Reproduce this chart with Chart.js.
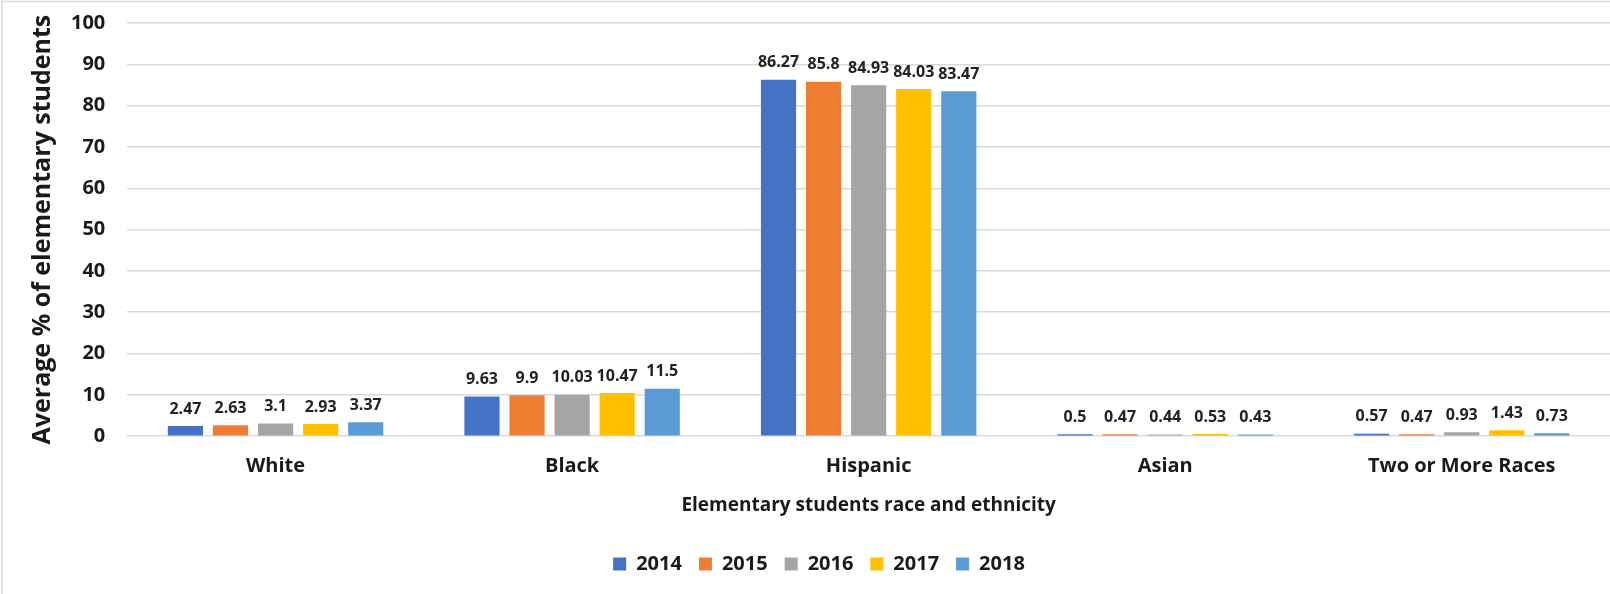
<!DOCTYPE html>
<html>
<head>
<meta charset="utf-8">
<script src="https://cdn.jsdelivr.net/npm/chart.js@4.4.1/dist/chart.umd.min.js"></script>
<style>
  html, body { margin: 0; padding: 0; background: #fff; }
  #wrap { width: 1610px; height: 594px; position: relative; }
</style>
</head>
<body>
<div id="wrap"><canvas id="grafico" width="1610" height="594"></canvas></div>
<script>
var categorias = ['White', 'Black', 'Hispanic', 'Asian', 'Two or More Races'];
var anos = ['2014', '2015', '2016', '2017', '2018'];
var v2014 = [2.47, 9.63, 86.27, 0.5, 0.57];
var v2015 = [2.63, 9.9, 85.8, 0.47, 0.47];
var v2016 = [3.1, 10.03, 84.93, 0.44, 0.93];
var v2017 = [2.93, 10.47, 84.03, 0.53, 1.43];
var v2018 = [3.37, 11.5, 83.47, 0.43, 0.73];
var cores = ['#4472C4', '#ED7D31', '#A5A5A5', '#FFC000', '#5B9BD5'];

var fonte = '"Open Sans", sans-serif';

// rotulos de valor por cima das barras
var rotulos = {
    id: 'rotulos',
    afterDatasetsDraw: function (chart) {
        var ctx = chart.ctx;
        ctx.save();
        ctx.font = 'bold 16px ' + fonte;
        ctx.fillStyle = '#222';
        ctx.textAlign = 'center';
        ctx.textBaseline = 'bottom';
        chart.data.datasets.forEach(function (ds, i) {
            chart.getDatasetMeta(i).data.forEach(function (bar, j) {
                ctx.fillText(String(ds.data[j]), bar.x, bar.y - 9);
            });
        });
        ctx.restore();
    }
};

// moldura cinzenta (so em cima e a esquerda, como na imagem original)
var moldura = {
    id: 'moldura',
    afterDraw: function (chart) {
        var ctx = chart.ctx;
        ctx.save();
        ctx.strokeStyle = '#d9d9d9';
        ctx.lineWidth = 1.5;
        ctx.beginPath();
        ctx.moveTo(2, chart.height);
        ctx.lineTo(2, 1.5);
        ctx.lineTo(chart.width, 1.5);
        ctx.stroke();
        ctx.restore();
    }
};

var series = [v2014, v2015, v2016, v2017, v2018];

var ctx = document.getElementById('grafico').getContext('2d');
new Chart(ctx, {
    type: 'bar',
    data: {
        labels: categorias,
        datasets: anos.map(function (a, i) {
            return {
                label: a,
                data: series[i],
                backgroundColor: cores[i],
                categoryPercentage: 0.76,
                barPercentage: 0.78
            };
        })
    },
    options: {
        responsive: false,
        animation: false,
        layout: { padding: { left: 28, right: 0, top: 23, bottom: 10 } },
        scales: {
            x: {
                afterFit: function (s) { s.paddingLeft = 0; s.paddingRight = 0; },
                grid: { display: false, drawTicks: false },
                border: { display: false },
                ticks: { color: '#1a1a1a', font: { family: fonte, size: 20, weight: 'bold' }, padding: 18 },
                title: {
                    display: true,
                    text: 'Elementary students race and ethnicity',
                    color: '#1a1a1a',
                    font: { family: fonte, size: 19, weight: 'bold' },
                    padding: { top: -2, bottom: 20 }
                }
            },
            y: {
                afterFit: function (s) { s.paddingTop = 0; s.paddingBottom = 0; },
                min: 0,
                max: 100,
                ticks: { stepSize: 10, color: '#1a1a1a', font: { family: fonte, size: 20, weight: 'bold' }, padding: 22 },
                grid: { color: '#d9d9d9', lineWidth: 1.5, drawTicks: false },
                border: { display: false },
                title: {
                    display: true,
                    text: 'Average % of elementary students',
                    color: '#1a1a1a',
                    font: { family: fonte, size: 25, weight: 'bold' },
                    padding: { top: 0, bottom: -9 }
                }
            }
        },
        plugins: {
            legend: {
                position: 'bottom',
                labels: {
                    color: '#1a1a1a',
                    font: { family: fonte, size: 20, weight: 'bold' },
                    boxWidth: 13,
                    boxHeight: 13,
                    padding: 17
                }
            },
            tooltip: { enabled: false }
        }
    },
    plugins: [rotulos, moldura]
});
</script>
</body>
</html>
